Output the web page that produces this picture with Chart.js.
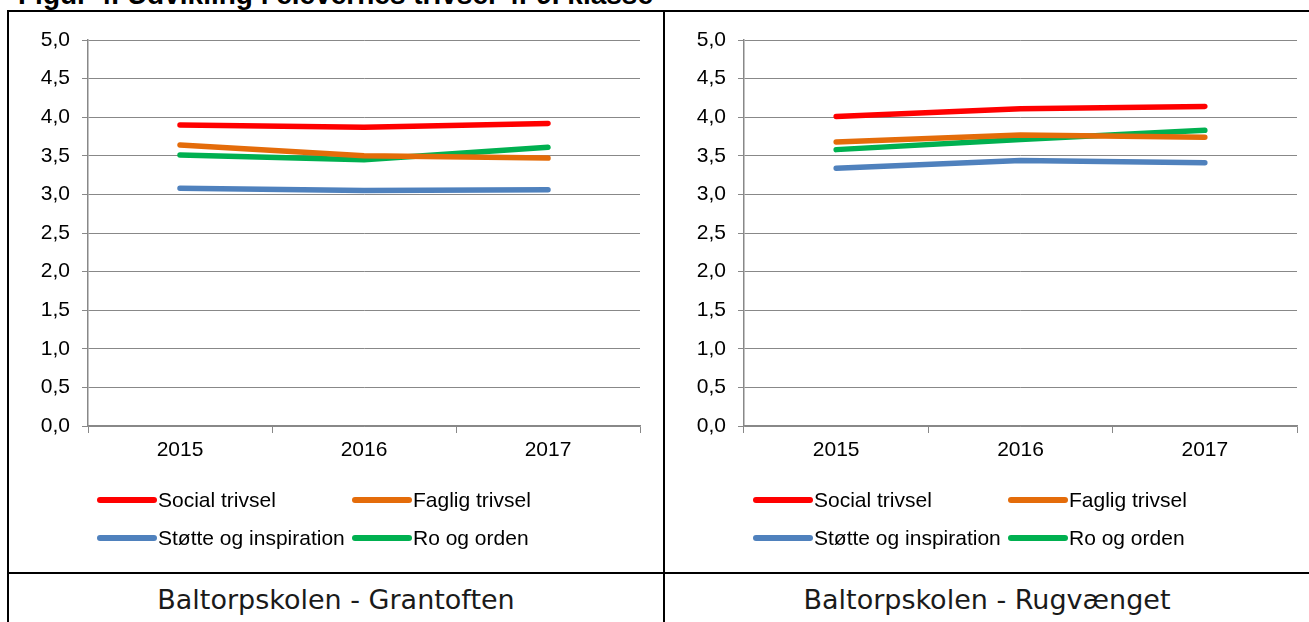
<!DOCTYPE html>
<html>
<head>
<meta charset="utf-8">
<script src="https://cdn.jsdelivr.net/npm/chart.js@4.4.1/dist/chart.umd.min.js"></script>
<style>
	body { margin: 0; width: 1309px; height: 622px; overflow: hidden; background: #fff; position: relative; }
	.title { position: absolute; left: 18px; top: -19px; font: bold 28px "Liberation Sans", Arial, sans-serif; line-height: 28px; white-space: nowrap; color: #000; }
	.line { position: absolute; background: #000; }
	.cell { position: absolute; }
	.name { position: absolute; top: 584px; height: 48px; line-height: 48px; text-align: center; font: 27px "DejaVu Sans", Verdana, sans-serif; color: #1a1a1a; }
</style>
</head>
<body>

<div class="title">Figur 4. Udvikling i elevernes trivsel 4.-9. klasse</div>

<div class="line" style="left:7px; top:10px; width:1302px; height:2px;"></div>
<div class="line" style="left:7px; top:10px; width:2px; height:612px;"></div>
<div class="line" style="left:663px; top:10px; width:2px; height:612px;"></div>
<div class="line" style="left:7px; top:572px; width:1302px; height:2px;"></div>

<div class="cell" style="left:10px; top:12px; width:653px; height:560px;"><canvas id="chartLeft"></canvas></div>
<div class="cell" style="left:666px; top:12px; width:643px; height:560px;"><canvas id="chartRight"></canvas></div>

<div class="name" style="left:9px; width:654px;">Baltorpskolen - Grantoften</div>
<div class="name" style="left:665px; width:644px;">Baltorpskolen - Rugvænget</div>

<script>

const years = ['2015', '2016', '2017'];

const series_names = ['Social trivsel', 'Faglig trivsel', 'Støtte og inspiration', 'Ro og orden'];
const series_colors = ['#FF0000', '#E46C0A', '#4F81BD', '#00B050'];

// Baltorpskolen - Grantoften
const grantoften_social = [3.90, 3.87, 3.92];
const grantoften_faglig = [3.64, 3.50, 3.47];
const grantoften_stoette = [3.08, 3.05, 3.06];
const grantoften_ro = [3.51, 3.45, 3.61];

// Baltorpskolen - Rugvænget
const rugvaenget_social = [4.01, 4.11, 4.14];
const rugvaenget_faglig = [3.68, 3.77, 3.74];
const rugvaenget_stoette = [3.34, 3.44, 3.41];
const rugvaenget_ro = [3.58, 3.71, 3.83];

const y_ticks = [0, 0.5, 1, 1.5, 2, 2.5, 3, 3.5, 4, 4.5, 5];

const font_family = '"Liberation Sans", Arial, sans-serif';
const grid_color = '#888888';


function getDatasets(values_list)
{
	return values_list.map((values, i) => ({
		label: series_names[i],
		data: values,
		borderColor: series_colors[i],
		backgroundColor: series_colors[i],
		borderWidth: 5.5,
		borderCapStyle: 'round',
		borderJoinStyle: 'round',
		pointRadius: 0,
		tension: 0,
	}));
}


// legend drawn as two aligned columns, like the original
const columnLegend = {
	id: 'columnLegend',
	afterDraw(chart)
	{
		const ctx = chart.ctx;
		const area = chart.chartArea;

		ctx.save();
		ctx.font = '21px ' + font_family;
		ctx.textBaseline = 'middle';
		ctx.textAlign = 'left';

		chart.data.datasets.forEach((ds, i) => {
			const col = i % 2;
			const row = Math.floor(i / 2);
			const x = area.left + 12 + col * 255;
			const y = area.bottom + 74 + row * 38;

			ctx.strokeStyle = ds.borderColor;
			ctx.lineWidth = 6;
			ctx.lineCap = 'round';
			ctx.beginPath();
			ctx.moveTo(x, y);
			ctx.lineTo(x + 54, y);
			ctx.stroke();

			ctx.fillStyle = '#000';
			ctx.fillText(ds.label, x + 58, y + 1);
		});

		ctx.restore();
	}
};


function createChart(canvas_id, values_list, right_padding)
{
	return new Chart(document.getElementById(canvas_id), {
		type: 'line',
		data: {
			labels: years,
			datasets: getDatasets(values_list),
		},
		options: {
			responsive: true,
			maintainAspectRatio: false,
			animation: false,
			layout: { padding: { left: 0, right: right_padding, top: 28, bottom: 0 } },
			plugins: {
				legend: { display: false },
				tooltip: { enabled: false },
			},
			scales: {
				x: {
					offset: true,
					grid: { offset: true, drawOnChartArea: false, color: grid_color, tickLength: 7 },
					border: { color: grid_color, width: 1.5 },
					ticks: { color: '#000', font: { family: font_family, size: 21 }, padding: 5 },
					afterFit: (scale) => { scale.height = 146; },
				},
				y: {
					min: 0,
					max: 5,
					afterBuildTicks: (scale) => { scale.ticks = y_ticks.map((v) => ({ value: v })); },
					grid: { color: grid_color, tickLength: 6 },
					border: { color: grid_color, width: 1.5 },
					ticks: {
						color: '#000',
						font: { family: font_family, size: 21 },
						padding: 12,
						callback: (v) => Number(v).toFixed(1).replace('.', ','),
					},
					afterFit: (scale) => { scale.width = 78; },
				},
			},
		},
		plugins: [columnLegend],
	});
}


window.onload = function(){

	createChart('chartLeft', [grantoften_social, grantoften_faglig, grantoften_stoette, grantoften_ro], 23);
	createChart('chartRight', [rugvaenget_social, rugvaenget_faglig, rugvaenget_stoette, rugvaenget_ro], 12);

};

</script>
</body>
</html>
